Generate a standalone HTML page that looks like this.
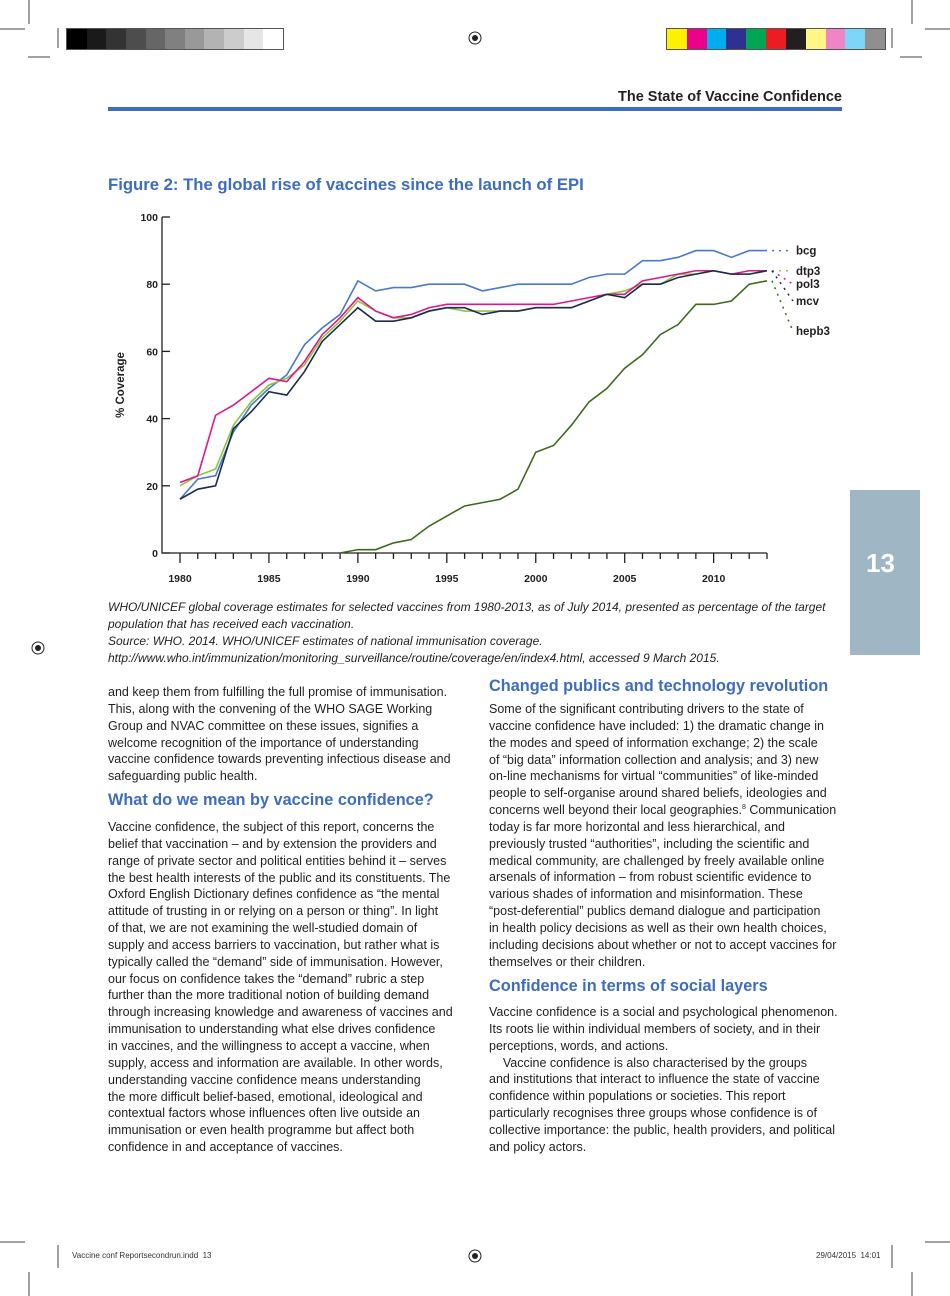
<!DOCTYPE html>
<html><head><meta charset="utf-8">
<style>
body{margin:0;width:950px;height:1296px;position:relative;background:#fff;font-family:"Liberation Sans",sans-serif;overflow:hidden}
.abs{position:absolute}
.txt{font-size:12.5px;line-height:16.85px;color:#231f20;white-space:nowrap}
.h{font-size:16.3px;font-weight:bold;color:#3d6cc0;white-space:nowrap}
.cap{font-size:12px;line-height:17px;font-style:italic;color:#231f20;white-space:nowrap}
</style></head><body>
<div class="abs" style="left:66px;top:28px;width:216px;height:20px;border:1px solid #555;display:flex">
<div style="flex:1;background:#000"></div><div style="flex:1;background:#1a1a1a"></div><div style="flex:1;background:#333"></div><div style="flex:1;background:#4d4d4d"></div><div style="flex:1;background:#666"></div><div style="flex:1;background:#808080"></div><div style="flex:1;background:#999"></div><div style="flex:1;background:#b3b3b3"></div><div style="flex:1;background:#ccc"></div><div style="flex:1;background:#e6e6e6"></div><div style="flex:1;background:#fff"></div></div>
<div class="abs" style="left:666px;top:28px;width:218px;height:20px;border:1px solid #555;display:flex">
<div style="flex:1;background:#fff200"></div><div style="flex:1;background:#ec008c"></div><div style="flex:1;background:#00aeef"></div><div style="flex:1;background:#2e3192"></div><div style="flex:1;background:#00a651"></div><div style="flex:1;background:#ed1c24"></div><div style="flex:1;background:#231f20"></div><div style="flex:1;background:#fff685"></div><div style="flex:1;background:#f184c4"></div><div style="flex:1;background:#7dd5f7"></div><div style="flex:1;background:#8f8f8f"></div></div>
<svg class="abs" style="left:0;top:0" width="950" height="1296">
<g stroke="#444" stroke-width="1">
<line x1="29" y1="0" x2="29" y2="24"/><line x1="0" y1="29" x2="25" y2="29"/><line x1="28" y1="57" x2="50" y2="57"/><line x1="58" y1="28" x2="58" y2="48"/>
<line x1="912" y1="0" x2="912" y2="24"/><line x1="925" y1="29" x2="950" y2="29"/><line x1="892" y1="28" x2="892" y2="48"/><line x1="900" y1="57" x2="922" y2="57"/>
<line x1="29" y1="1272" x2="29" y2="1296"/><line x1="0" y1="1242" x2="25" y2="1242"/><line x1="58" y1="1245" x2="58" y2="1268"/>
<line x1="912" y1="1272" x2="912" y2="1296"/><line x1="925" y1="1242" x2="950" y2="1242"/><line x1="892" y1="1245" x2="892" y2="1268"/>
</g>
<g fill="none" stroke="#222"><circle cx="475" cy="38" r="6"/><circle cx="38" cy="648" r="6"/><circle cx="910" cy="648" r="6"/><circle cx="475" cy="1256" r="6"/></g>
<g fill="#222"><circle cx="475" cy="38" r="3"/><circle cx="38" cy="648" r="3"/><circle cx="910" cy="648" r="3"/><circle cx="475" cy="1256" r="3"/></g>
</svg>
<div class="abs" style="right:108px;top:89px;font-size:14.5px;font-weight:bold;color:#231f20">The State of Vaccine Confidence</div>
<div class="abs" style="left:108px;top:107px;width:734px;height:4px;background:#3d6cc0"></div>
<div class="abs" style="left:850px;top:490px;width:70px;height:165px;background:#9fb7c4"><div style="position:absolute;left:16px;top:58px;color:#fff;font-size:26px;font-weight:bold">13</div></div>
<div class="abs h" style="left:108px;top:175px;font-size:16.7px">Figure 2: The global rise of vaccines since the launch of EPI</div>

<svg class="abs" id="chart" style="left:0;top:0" width="950" height="600"></svg>

<div class="abs cap" style="left:108px;top:599px">WHO/UNICEF global coverage estimates for selected vaccines from 1980-2013, as of July 2014, presented as percentage of the target<br>population that has received each vaccination.<br>Source: WHO. 2014. WHO/UNICEF estimates of national immunisation coverage.<br>http://www.who.int/immunization/monitoring_surveillance/routine/coverage/en/index4.html, accessed 9 March 2015.</div>

<div class="abs txt" style="left:108px;top:684px">and keep them from fulfilling the full promise of immunisation.<br>This, along with the convening of the WHO SAGE Working<br>Group and NVAC committee on these issues, signifies a<br>welcome recognition of the importance of understanding<br>vaccine confidence towards preventing infectious disease and<br>safeguarding public health.</div>
<div class="abs h" style="left:108px;top:791px">What do we mean by vaccine confidence?</div>
<div class="abs txt" style="left:108px;top:819px">Vaccine confidence, the subject of this report, concerns the<br>belief that vaccination – and by extension the providers and<br>range of private sector and political entities behind it – serves<br>the best health interests of the public and its constituents. The<br>Oxford English Dictionary defines confidence as “the mental<br>attitude of trusting in or relying on a person or thing”. In light<br>of that, we are not examining the well-studied domain of<br>supply and access barriers to vaccination, but rather what is<br>typically called the “demand” side of immunisation. However,<br>our focus on confidence takes the “demand” rubric a step<br>further than the more traditional notion of building demand<br>through increasing knowledge and awareness of vaccines and<br>immunisation to understanding what else drives confidence<br>in vaccines, and the willingness to accept a vaccine, when<br>supply, access and information are available. In other words,<br>understanding vaccine confidence means understanding<br>the more difficult belief-based, emotional, ideological and<br>contextual factors whose influences often live outside an<br>immunisation or even health programme but affect both<br>confidence in and acceptance of vaccines.</div>

<div class="abs h" style="left:489px;top:677px">Changed publics and technology revolution</div>
<div class="abs txt" style="left:489px;top:701px">Some of the significant contributing drivers to the state of<br>vaccine confidence have included: 1) the dramatic change in<br>the modes and speed of information exchange; 2) the scale<br>of “big data” information collection and analysis; and 3) new<br>on-line mechanisms for virtual “communities” of like-minded<br>people to self-organise around shared beliefs, ideologies and<br>concerns well beyond their local geographies.<sup style="font-size:7px;line-height:0">8</sup> Communication<br>today is far more horizontal and less hierarchical, and<br>previously trusted “authorities”, including the scientific and<br>medical community, are challenged by freely available online<br>arsenals of information – from robust scientific evidence to<br>various shades of information and misinformation. These<br>“post-deferential” publics demand dialogue and participation<br>in health policy decisions as well as their own health choices,<br>including decisions about whether or not to accept vaccines for<br>themselves or their children.</div>
<div class="abs h" style="left:489px;top:977px">Confidence in terms of social layers</div>
<div class="abs txt" style="left:489px;top:1004px">Vaccine confidence is a social and psychological phenomenon.<br>Its roots lie within individual members of society, and in their<br>perceptions, words, and actions.<br>&nbsp;&nbsp;&nbsp;&nbsp;Vaccine confidence is also characterised by the groups<br>and institutions that interact to influence the state of vaccine<br>confidence within populations or societies. This report<br>particularly recognises three groups whose confidence is of<br>collective importance: the public, health providers, and political<br>and policy actors.</div>

<div class="abs" style="left:72px;top:1251px;font-size:8px;color:#333">Vaccine conf Reportsecondrun.indd &nbsp;13</div>
<div class="abs" style="left:816px;top:1251px;font-size:8px;color:#333">29/04/2015 &nbsp;14:01</div>

<script>
const years=[];for(let y=1980;y<=2013;y++)years.push(y);
const yTicks=[0,20,40,60,80,100];
const xTickLabels=[1980,1985,1990,1995,2000,2005,2010];
const bcg=[16,22,23,36,44,49,53,62,67,71,81,78,79,79,80,80,80,78,79,80,80,80,80,82,83,83,87,87,88,90,90,88,90,90];
const dtp3=[20,23,25,38,45,50,52,56,64,69,75,72,70,70,72,73,72,72,72,72,73,73,73,75,77,78,80,80,83,83,84,83,83,84];
const pol3=[21,23,41,44,48,52,51,57,65,70,76,72,70,71,73,74,74,74,74,74,74,74,75,76,77,77,81,82,83,84,84,83,84,84];
const mcv=[16,19,20,37,42,48,47,54,63,68,73,69,69,70,72,73,73,71,72,72,73,73,73,75,77,76,80,80,82,83,84,83,83,84];
const hepb3=[null,null,null,null,null,null,null,null,null,0,1,1,3,4,8,11,14,15,16,19,30,32,38,45,49,55,59,65,68,74,74,75,80,81];
const seriesNames=["bcg","dtp3","pol3","mcv","hepb3"];
const labelValues=[90,84,80,75,66];
const svg=document.getElementById('chart');const NS='http://www.w3.org/2000/svg';
const X=y=>180+(y-1980)*(587/33);const Y=v=>553-v*3.36;
function el(t,a){const e=document.createElementNS(NS,t);for(const k in a)e.setAttribute(k,a[k]);svg.appendChild(e);return e;}
const ax=el('path',{d:`M162 ${Y(100)} V553 H${X(2013)}`,stroke:'#231f20','stroke-width':1.3,fill:'none'});


yTicks.forEach(v=>{
 const t=el('line',{x1:162,x2:170,y1:Y(v),y2:Y(v),stroke:'#231f20','stroke-width':1.3});
 
 
 const l=el('text',{x:158,y:Y(v)+4,'text-anchor':'end','font-size':10.5,'font-weight':'bold',fill:'#231f20'});l.textContent=v;
 
 
});
years.forEach(y=>{
 const t=el('line',{x1:X(y),x2:X(y),y1:553,y2:y%5==0?563:559,stroke:'#231f20','stroke-width':1.3});
 
 
});
xTickLabels.forEach(y=>{
 const l=el('text',{x:X(y),y:582,'text-anchor':'middle','font-size':10.5,'font-weight':'bold',fill:'#231f20'});l.textContent=y;
 
 
});
const yt=el('text',{x:0,y:0,transform:'translate(124,385) rotate(-90)','text-anchor':'middle','font-size':11.5,'font-weight':'bold',fill:'#231f20'});yt.textContent='% Coverage';


const data=[bcg,dtp3,pol3,mcv,hepb3];const colors=['#4a78cf','#8cc63f','#e0168c','#1c2b4e','#3f6a1e'];
data.forEach((s,i)=>{
 let d='';s.forEach((v,j)=>{if(v===null)return;d+=(d?'L':'M')+X(years[j])+' '+Y(v);});
 const p=el('path',{d:d,stroke:colors[i],'stroke-width':1.6,fill:'none'});
 
 
 const last=s[s.length-1];
 const lead=el('line',{x1:X(2013)+5,y1:Y(last),x2:793,y2:Y(labelValues[i]),stroke:colors[i],'stroke-width':1.5,'stroke-dasharray':'2 5'});
 
 
 const t=el('text',{x:796,y:Y(labelValues[i])+4,'font-size':11.5,'font-weight':'bold',fill:'#231f20'});t.textContent=seriesNames[i];
 
 
});
</script>
</body></html>
